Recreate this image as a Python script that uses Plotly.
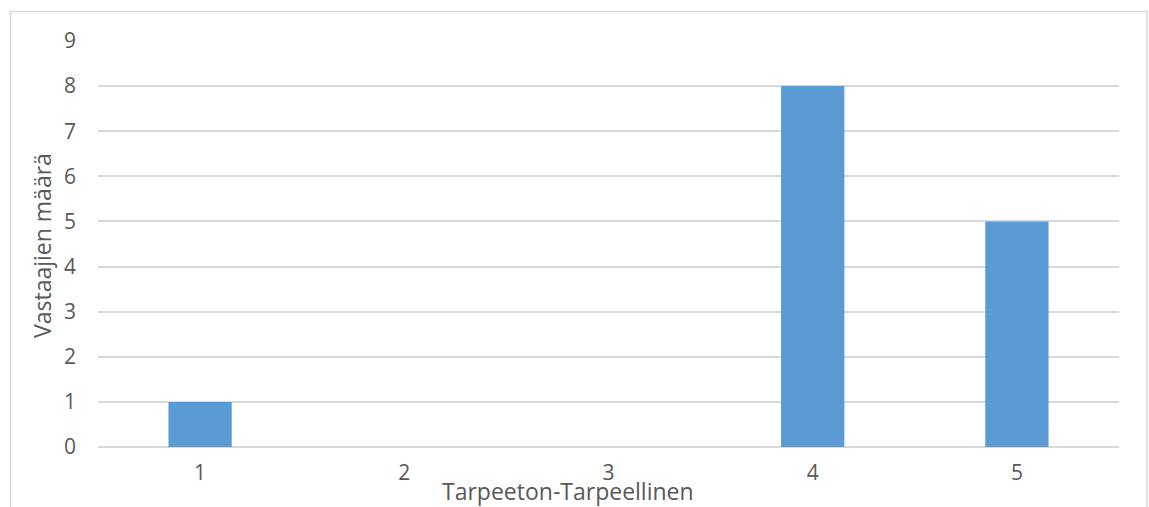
import plotly.graph_objects as go

# Survey answers on a 1-5 scale (useless -> useful)
categories = ["1", "2", "3", "4", "5"]
counts = [1, 0, 0, 8, 5]
y_ticks = list(range(0, 10))

x_title = "Tarpeeton-Tarpeellinen"
y_title = "Vastaajien määrä"

W, H = 1149, 507
L, R, T, B = 98, 30, 41, 60
plot_w = W - L - R
plot_h = H - T - B


def px_to_paper_x(px):
    return (px - L) / plot_w


def px_to_paper_y(py):
    return (H - B - py) / plot_h


text_color = "#595959"
grid_color = "#d9d9d9"
font_family = "Open Sans, Segoe UI, Arial, sans-serif"

fig = go.Figure(
    go.Bar(
        x=categories,
        y=counts,
        marker=dict(color="#5b9bd5", line=dict(width=0)),
        hoverinfo="x+y",
    )
)

fig.update_layout(
    width=W,
    height=H,
    margin=dict(l=L, r=R, t=T, b=B, pad=0),
    paper_bgcolor="white",
    plot_bgcolor="white",
    bargap=0.69,
    showlegend=False,
    font=dict(family=font_family, color=text_color, size=21),
    xaxis=dict(
        type="category",
        showgrid=False,
        showline=False,
        zeroline=False,
        ticks="",
        tickfont=dict(size=21, color=text_color),
        ticklabelstandoff=11,
    ),
    yaxis=dict(
        range=[0, 9],
        tickvals=y_ticks,
        showgrid=True,
        gridcolor=grid_color,
        gridwidth=1.5,
        zeroline=True,
        zerolinecolor=grid_color,
        zerolinewidth=1.5,
        showline=False,
        ticks="",
        tickfont=dict(size=21, color=text_color),
        ticklabelstandoff=21,
    ),
    shapes=[
        dict(
            type="rect",
            xref="paper",
            yref="paper",
            x0=px_to_paper_x(10.5),
            x1=px_to_paper_x(1147),
            y0=px_to_paper_y(520),
            y1=px_to_paper_y(11.5),
            line=dict(color=grid_color, width=1.5),
            fillcolor="rgba(0,0,0,0)",
            layer="below",
        )
    ],
    annotations=[
        dict(
            text=x_title,
            xref="paper",
            yref="paper",
            x=px_to_paper_x(568),
            y=px_to_paper_y(491),
            xanchor="center",
            yanchor="middle",
            showarrow=False,
            font=dict(size=23, color=text_color),
        ),
        dict(
            text=y_title,
            xref="paper",
            yref="paper",
            x=px_to_paper_x(42),
            y=px_to_paper_y(246),
            xanchor="center",
            yanchor="middle",
            textangle=-90,
            showarrow=False,
            font=dict(size=23, color=text_color),
        ),
    ],
)

fig.write_html("out.html")
